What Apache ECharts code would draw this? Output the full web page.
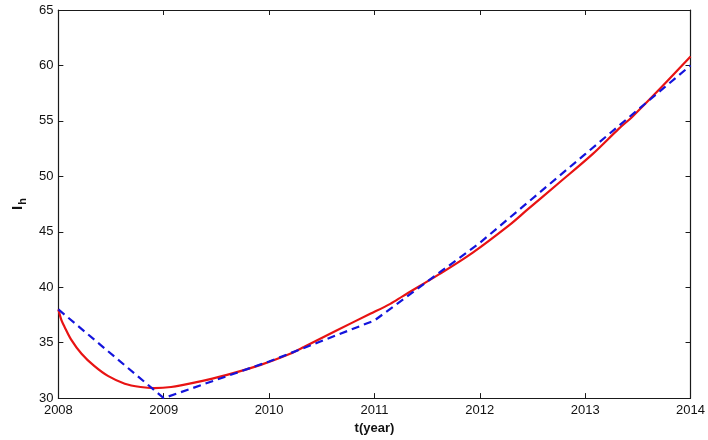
<!doctype html>
<html lang="en">
<head>
  <meta charset="UTF-8">
  <script src="https://cdn.jsdelivr.net/npm/echarts@6/dist/echarts.min.js"></script>
  <title>I_h</title>
  <style type="text/css">
    html, body { margin: 0; padding: 0; background: #fff; }
    #canvas { width: 708px; height: 440px; }
  </style>
</head>
<body>
<div id="canvas"></div>
<script type="text/javascript">
  // model curve (red, solid)
  const redYears = [2008.00, 2008.03, 2008.06, 2008.12, 2008.22, 2008.34, 2008.47, 2008.63, 2008.78, 2008.91,
    2009.07, 2009.29, 2009.60, 2009.92, 2010.20, 2010.33, 2010.64, 2010.96, 2011.15, 2011.27,
    2011.62, 2011.93, 2012.28, 2012.44, 2012.75, 2013.07, 2013.32, 2013.45, 2013.70, 2013.98, 2014.00]
  const redValues = [38.0, 37.0, 36.4, 35.3, 34.0, 32.9, 32.0, 31.3, 31.0, 30.9,
    31.0, 31.4, 32.1, 33.0, 34.0, 34.6, 36.1, 37.6, 38.5, 39.2,
    41.2, 43.1, 45.6, 46.9, 49.4, 52.0, 54.3, 55.4, 57.8, 60.6, 60.8]

  // reported data (blue, dashed)
  const blueYears = [2008, 2009, 2010, 2011, 2012, 2013, 2014]
  const blueValues = [38, 30, 33.3, 37, 44, 52, 60]

  const xTicks = [2008, 2009, 2010, 2011, 2012, 2013, 2014]
  const yMin = 30
  const yMax = 65

  const chart = echarts.init(document.getElementById('canvas'))
  const font = 'Liberation Sans, Arial, sans-serif'
  const frame = { show: true, lineStyle: { color: '#1a1a1a', width: 1.2 } }
  const tick = { show: true, inside: true, length: 5, lineStyle: { color: '#1a1a1a' } }

  chart.setOption({
    animation: false,
    backgroundColor: '#fff',
    grid: { left: 57, right: 12, top: 10, bottom: 35, containLabel: false },
    xAxis: [
      {
        type: 'value', min: xTicks[0], max: xTicks[xTicks.length - 1], interval: 1,
        axisLine: frame, axisTick: tick, splitLine: { show: false },
        axisLabel: { color: '#111', fontFamily: font, fontSize: 13, margin: 6, formatter: v => String(v) },
        name: 't(year)', nameLocation: 'middle', nameGap: 23,
        nameTextStyle: { color: '#111', fontFamily: font, fontSize: 13, fontWeight: 'bold' }
      },
      {
        type: 'value', position: 'top', min: xTicks[0], max: xTicks[xTicks.length - 1], interval: 1,
        axisLine: frame, axisTick: tick, axisLabel: { show: false }, splitLine: { show: false }
      }
    ],
    yAxis: [
      {
        type: 'value', min: yMin, max: yMax, interval: 5,
        axisLine: frame, axisTick: tick, splitLine: { show: false },
        axisLabel: { color: '#111', fontFamily: font, fontSize: 13, margin: 5 },
        name: '{a|I}{b|h}', nameLocation: 'middle', nameGap: 24, nameRotate: 90,
        nameTextStyle: {
          color: '#111', fontFamily: font, fontWeight: 'bold',
          rich: {
            a: { fontSize: 15, fontWeight: 'bold', fontFamily: font, color: '#111', lineHeight: 20 },
            b: { fontSize: 11, fontWeight: 'bold', fontFamily: font, color: '#111', padding: [9, 0, 0, 1], lineHeight: 20 }
          }
        }
      },
      {
        type: 'value', position: 'right', min: yMin, max: yMax, interval: 5,
        axisLine: frame, axisTick: tick, axisLabel: { show: false }, splitLine: { show: false }
      }
    ],
    series: [
      {
        type: 'line', name: 'model', smooth: 0.3, showSymbol: false, clip: true,
        lineStyle: { color: '#e81313', width: 2.2 },
        data: redYears.map((y, i) => [y, redValues[i]])
      },
      {
        type: 'line', name: 'data', showSymbol: false, clip: true,
        lineStyle: { color: '#1414dc', width: 2.2, type: [8, 5] },
        data: blueYears.map((y, i) => [y, blueValues[i]])
      }
    ]
  })
</script>
</body>
</html>
